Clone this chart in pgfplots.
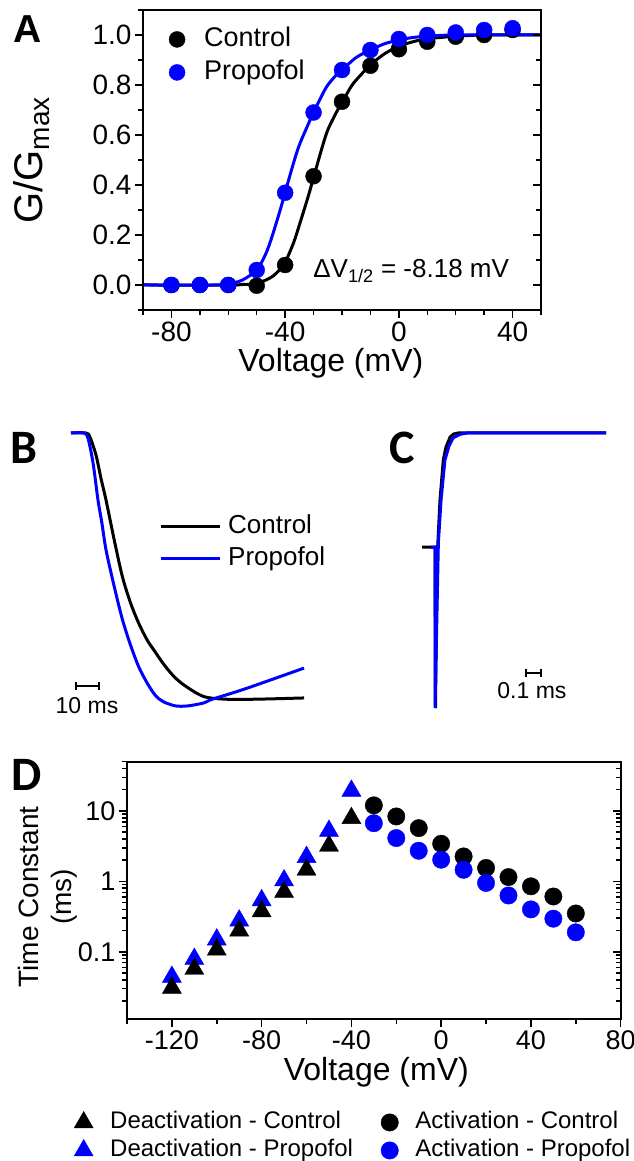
\documentclass[border=0pt]{standalone}
\usepackage{fontspec}
\setmainfont{Liberation Sans}
\newfontfamily\carlito{Carlito}
\usepackage{pgfplots}
\pgfplotsset{compat=1.18}
\begin{document}
\begin{tikzpicture}
\useasboundingbox (0pt,0pt) rectangle (634pt,1161pt);
\pgfplotsset{
  myticks/.style={
    tick align=outside, major tick length=8pt, minor tick length=5pt,
    axis line style={line width=1.8pt},
    every tick/.style={black, line width=1.5pt},
    tick label style={font=\fontsize{28}{30}\selectfont},
  },
}
% ---------------- Panel A ----------------
\begin{axis}[at={(143pt,851pt)}, anchor=south west, scale only axis,
  width=398pt, height=300pt,
  xmin=-90, xmax=50, ymin=-0.1, ymax=1.1,
  myticks, clip mode=individual,
  xtick={-80,-40,0,40}, xticklabels={-80,-40,0,40},
  minor xtick={-90,-70,-60,-50,-30,-20,-10,10,20,30,50},
  ytick={0,0.2,0.4,0.6,0.8,1}, yticklabels={0.0,0.2,0.4,0.6,0.8,1.0},
  minor ytick={-0.1,0.1,0.3,0.5,0.7,0.9,1.1},
  xtick pos=bottom, ytick pos=left,
  legend image code/.code={\draw[#1] plot coordinates {(0pt,0pt)};},
  legend style={at={(axis description cs:0.065,0.945)}, anchor=north west,
    draw=none, fill=none, inner sep=0pt,
    font=\fontsize{27}{30}\selectfont,
    nodes={inner sep=0pt, text height=19.5pt, text depth=6pt},
    row sep=7.5pt,
    /tikz/every odd column/.append style={column sep=19pt}},
  legend cell align=left,
]
\addplot[black, line width=3pt, smooth, forget plot] coordinates {
(-90,0) (-60,0) (-55,0.002) (-50,0.006) (-45,0.03) (-42,0.06) (-40,0.09)
(-37,0.17) (-35,0.24) (-32,0.35) (-30,0.43) (-27,0.55) (-25,0.62) (-22,0.69)
(-20,0.73) (-17,0.79) (-15,0.82) (-10,0.88) (-5,0.925) (0,0.955) (5,0.973)
(10,0.985) (20,0.995) (30,1.0) (50,1.0)};
\addplot[blue, line width=3pt, smooth, forget plot] coordinates {
(-90,0) (-65,0) (-60,0.004) (-55,0.02) (-50,0.06) (-47,0.12) (-45,0.18)
(-42,0.29) (-40,0.37) (-37,0.49) (-35,0.56) (-32,0.64) (-30,0.69) (-27,0.76)
(-25,0.80) (-22,0.84) (-20,0.86) (-15,0.91) (-10,0.94) (-5,0.965) (0,0.98)
(5,0.99) (10,0.995) (20,1.0) (50,1.0)};
\addplot[only marks, mark=*, mark size=8pt, black, mark options={draw=black, fill=black}] coordinates {
(-80,0) (-70,0) (-60,0) (-50,-0.003) (-40,0.08) (-30,0.435) (-20,0.733)
(-10,0.877) (0,0.943) (10,0.973) (20,0.993) (30,1.0) (40,1.02)};
\addlegendentry{Control}
\addplot[only marks, mark=*, mark size=8pt, blue, mark options={draw=blue, fill=blue}] coordinates {
(-80,0) (-70,0) (-60,0) (-50,0.06) (-40,0.369) (-30,0.69) (-20,0.86)
(-10,0.94) (0,0.984) (10,1.0) (20,1.01) (30,1.02) (40,1.027)};
\addlegendentry{Propofol}
\node[anchor=base east, inner sep=0pt, font=\fontsize{26}{28}\selectfont]
  at (axis cs:38.8,0.028) {ΔV\textsubscript{1/2} = -8.18 mV};
\node[anchor=base, inner sep=0pt, font=\fontsize{32}{34}\selectfont]
  at (axis description cs:0.472,-0.205) {Voltage (mV)};
\node[anchor=south, rotate=90, inner sep=0pt, font=\fontsize{40}{44}\selectfont]
  at (axis description cs:-0.234,0.5) {G/G\textsubscript{max}};
\end{axis}
\begin{axis}[at={(143pt,851pt)}, anchor=south west, scale only axis,
  width=398pt, height=300pt,
  xmin=-90, xmax=50, ymin=-0.1, ymax=1.1,
  myticks, tick align=inside,
  xtick=\empty,
  ytick={0,0.2,0.4,0.6,0.8,1}, yticklabels={},
  minor ytick={-0.1,0.1,0.3,0.5,0.7,0.9,1.1},
  ytick pos=right,
]
\end{axis}
\node[font=\fontsize{39}{40}\selectfont\bfseries, inner sep=0pt] at (28pt,1132pt) {A};
% ---------------- Panel B ----------------
\begin{axis}[at={(71pt,426.6pt)}, anchor=south west, scale only axis,
  width=232.8pt, height=328.8pt,
  xmin=0, xmax=97, ymin=-1.1, ymax=0.1,
  axis lines=none, clip=false,
  legend image code/.code={\draw[#1] (0pt,0pt) -- (59pt,0pt);},
  legend style={at={(axis description cs:0.378,0.670)}, anchor=north west,
    draw=none, fill=none, inner sep=0pt,
    font=\fontsize{26}{28}\selectfont,
    nodes={inner sep=0pt, text height=19pt, text depth=6pt},
    row sep=7pt,
    /tikz/every odd column/.append style={column sep=7pt}},
  legend cell align=left,
]
\addplot[black, line width=3pt, smooth] coordinates {
(0,0) (6.25,0) (7.9,-0.015) (10.4,-0.08) (12.6,-0.17) (14.6,-0.245) (18,-0.39)
(21.4,-0.524) (24.8,-0.62) (28.2,-0.694) (31.7,-0.755) (35,-0.798) (38.3,-0.84)
(42.5,-0.885) (47.1,-0.92) (55.4,-0.962) (65.8,-0.972) (80,-0.971) (97.1,-0.967)};
\addlegendentry{Control}
\addplot[blue, line width=3pt, smooth] coordinates {
(0,0) (5.4,0) (7.1,-0.02) (9.2,-0.11) (11.25,-0.245) (12.9,-0.33) (14.6,-0.427)
(18,-0.56) (21.4,-0.68) (24.8,-0.774) (28.2,-0.853) (31.7,-0.912) (35,-0.956)
(38.3,-0.98) (43.5,-0.996) (48.7,-0.996) (55.4,-0.985) (58.75,-0.972)
(72.5,-0.934) (97.1,-0.858)};
\addlegendentry{Propofol}
\addplot[black, line width=2pt, mark=|, mark size=4pt, mark options={line width=2pt}, forget plot]
  coordinates {(1.9,-0.923) (11.75,-0.923)};
\node[anchor=base, inner sep=0pt, font=\fontsize{23}{25}\selectfont]
  at (axis cs:6.67,-1.022) {10 ms};
\end{axis}
\node[font=\fontsize{48}{50}\selectfont\carlito\bfseries, inner sep=0pt] at (24pt,713pt) {B};
% ---------------- Panel C ----------------
\begin{axis}[at={(422pt,425.5pt)}, anchor=south west, scale only axis,
  width=184.5pt, height=330pt,
  xmin=0, xmax=1.23, ymin=-1.1, ymax=0.1,
  axis lines=none, clip=false,
]
\addplot[black, line width=3pt] coordinates {
(0,-0.415) (0.087,-0.415) (0.09,-1.0) (0.1,-0.462) (0.12,-0.244) (0.142,-0.098)
(0.16,-0.051) (0.187,-0.015) (0.21,-0.004) (0.24,0) (1.227,0)};
\addplot[blue, line width=3pt] coordinates {
(0.06,-0.415) (0.087,-0.415) (0.087,-1.0) (0.109,-0.4) (0.127,-0.244) (0.153,-0.098)
(0.18,-0.047) (0.207,-0.018) (0.253,-0.005) (0.3,0) (1.227,0)};
\addplot[black, line width=2pt, mark=|, mark size=4pt, mark options={line width=2pt}]
  coordinates {(0.691,-0.872) (0.792,-0.872)};
\node[anchor=base, inner sep=0pt, font=\fontsize{23}{25}\selectfont]
  at (axis cs:0.733,-0.964) {0.1 ms};
\end{axis}
\node[font=\fontsize{48}{50}\selectfont\carlito\bfseries, inner sep=0pt] at (402pt,713pt) {C};
% ---------------- Panel D ----------------
\begin{axis}[at={(127pt,141.7pt)}, anchor=south west, scale only axis,
  width=493.7pt, height=257.6pt,
  xmin=-140, xmax=80, ymode=log, ymin=0.011, ymax=50,
  myticks, clip mode=individual,
  tick label style={font=\fontsize{27}{29}\selectfont},
  xtick={-120,-80,-40,0,40,80}, xticklabels={-120,-80,-40,0,40,80},
  minor xtick={-140,-100,-60,-20,20,60},
  ytick={0.1,1,10}, yticklabels={0.1,1,10},
  minor ytick={0.02,0.03,0.04,0.05,0.06,0.07,0.08,0.09,0.2,0.3,0.4,0.5,0.6,0.7,0.8,0.9,2,3,4,5,6,7,8,9,20,30,40,50},
  xtick pos=bottom, ytick pos=left,
  legend image code/.code={\draw[#1] plot coordinates {(0pt,0pt)};},
  legend columns=2,
  legend style={at={(axis description cs:-0.1074,-0.356)}, anchor=north west,
    draw=none, fill=none, inner sep=0pt,
    font=\fontsize{24}{26}\selectfont,
    nodes={inner sep=0pt, text height=17.5pt, text depth=5pt},
    row sep=5.5pt,
    /tikz/every odd column/.append style={column sep=17pt},
    /tikz/every even column/.append style={column sep=28pt}},
  legend cell align=left,
]
\addplot[only marks, mark=triangle*, mark size=11pt, blue, mark options={draw=blue, fill=blue}, forget plot] coordinates {
(-120,0.044) (-110,0.079) (-100,0.149) (-90,0.277) (-80,0.537) (-70,1.03)
(-60,2.21) (-50,5.2) (-40,19.3)};
\addplot[only marks, mark=triangle*, mark size=11pt, black, mark options={draw=black, fill=black}, forget plot] coordinates {
(-120,0.0307) (-110,0.057) (-100,0.107) (-90,0.20) (-80,0.375) (-70,0.706)
(-60,1.46) (-50,3.2) (-40,7.9)};
\addplot[only marks, mark=*, mark size=8.7pt, black, mark options={draw=black, fill=black}, forget plot] coordinates {
(-30,12.0) (-20,8.35) (-10,5.7) (0,3.42) (10,2.26) (20,1.55) (30,1.15)
(40,0.85) (50,0.61) (60,0.35)};
\addplot[only marks, mark=*, mark size=8.7pt, blue, mark options={draw=blue, fill=blue}, forget plot] coordinates {
(-30,6.7) (-20,4.12) (-10,2.72) (0,2.03) (10,1.46) (20,0.95) (30,0.63)
(40,0.40) (50,0.295) (60,0.189)};
\addlegendimage{only marks, mark=triangle*, mark size=11pt, black, mark options={draw=black, fill=black}}
\addlegendentry{Deactivation - Control}
\addlegendimage{only marks, mark=*, mark size=8.7pt, black, mark options={draw=black, fill=black}}
\addlegendentry{Activation - Control}
\addlegendimage{only marks, mark=triangle*, mark size=11pt, blue, mark options={draw=blue, fill=blue}}
\addlegendentry{Deactivation - Propofol}
\addlegendimage{only marks, mark=*, mark size=8.7pt, blue, mark options={draw=blue, fill=blue}}
\addlegendentry{Activation - Propofol}
\node[anchor=base, inner sep=0pt, font=\fontsize{32}{34}\selectfont]
  at (axis description cs:0.505,-0.2395) {Voltage (mV)};
\node[anchor=south, rotate=90, inner sep=0pt, align=center, font=\fontsize{28}{33}\selectfont]
  at (axis description cs:-0.0993,0.475) {Time Constant\\(ms)};
\end{axis}
\begin{axis}[at={(127pt,141.7pt)}, anchor=south west, scale only axis,
  width=493.7pt, height=257.6pt,
  xmin=-140, xmax=80, ymode=log, ymin=0.011, ymax=50,
  myticks, tick align=inside,
  xtick=\empty,
  ytick={0.1,1,10}, yticklabels={},
  minor ytick={0.02,0.03,0.04,0.05,0.06,0.07,0.08,0.09,0.2,0.3,0.4,0.5,0.6,0.7,0.8,0.9,2,3,4,5,6,7,8,9,20,30,40,50},
  ytick pos=right,
]
\end{axis}
\node[font=\fontsize{48}{50}\selectfont\carlito\bfseries, inner sep=0pt] at (27pt,386pt) {D};
\end{tikzpicture}
\end{document}
